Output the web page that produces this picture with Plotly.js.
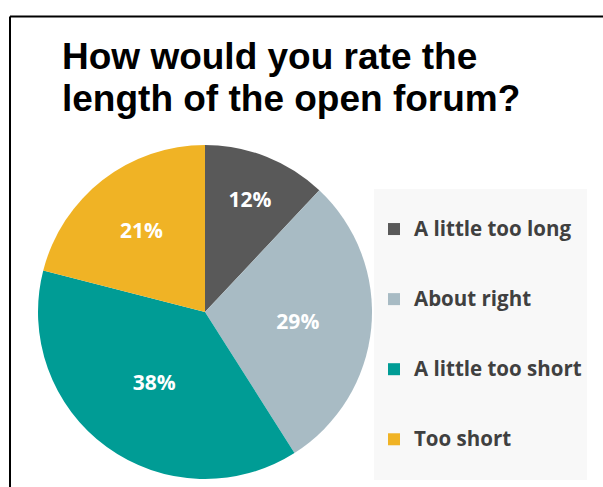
<!DOCTYPE html>
<html>
<head>
<meta charset="utf-8">
<script src="https://cdn.plot.ly/plotly-3.0.1.min.js"></script>
<style>html,body{margin:0;padding:0;background:#fff;}#chart{width:603px;height:487px;}</style>
</head>
<body>
<div id="chart"></div>
<script>
const categories = ["A little too long", "About right", "A little too short", "Too short"];
const shares = [12, 29, 38, 21];
const sliceColors = ["#595959", "#A8BBC4", "#009C95", "#F0B325"];
const titleLines = ["How would you rate the", "length of the open forum?"];

const W = 603, H = 487;
const px = v => v / W;
const py = v => 1 - v / H;

const legendLabels = categories.map(c => '&nbsp;<br><span style="font-size:20.5px">' + c + '</span><br>&nbsp;');

const trace = {
  type: 'pie',
  labels: legendLabels,
  values: shares,
  sort: false,
  direction: 'clockwise',
  rotation: 0,
  marker: {colors: sliceColors, line: {width: 0}},
  textinfo: 'percent',
  texttemplate: '%{percent:.0%}',
  textposition: 'inside',
  insidetextorientation: 'horizontal',
  textfont: {family: 'Open Sans', size: 21, color: '#ffffff', weight: 700},
  hoverinfo: 'none',
  domain: {x: [px(38), px(372)], y: [py(479), py(145)]}
};

const layout = {
  width: W, height: H,
  margin: {l: 0, r: 0, t: 0, b: 0},
  paper_bgcolor: '#ffffff',
  showlegend: true,
  title: {
    text: '<span style="font-size:37px">' + titleLines.join('<br>') + '</span>',
    font: {family: 'Liberation Sans, Arial, sans-serif', size: 32, color: '#000000', weight: 700},
    x: px(62), xanchor: 'left', xref: 'paper',
    y: py(69), yanchor: 'top', yref: 'paper'
  },
  legend: {
    x: px(374), xanchor: 'left',
    y: py(189), yanchor: 'top',
    bgcolor: '#F8F8F8',
    borderwidth: 0,
    font: {family: 'Open Sans', size: 17.2, color: '#404040', weight: 700},
    traceorder: 'normal'
  },
  shapes: [
    {type: 'line', xref: 'paper', yref: 'paper', x0: px(10), x1: 1, y0: py(16.5), y1: py(16.5), line: {color: '#000000', width: 2}},
    {type: 'line', xref: 'paper', yref: 'paper', x0: px(10), x1: px(10), y0: py(16.5), y1: 0, line: {color: '#000000', width: 2}}
  ]
};

Plotly.newPlot('chart', [trace], layout, {displayModeBar: false, staticPlot: true});
</script>
</body>
</html>
